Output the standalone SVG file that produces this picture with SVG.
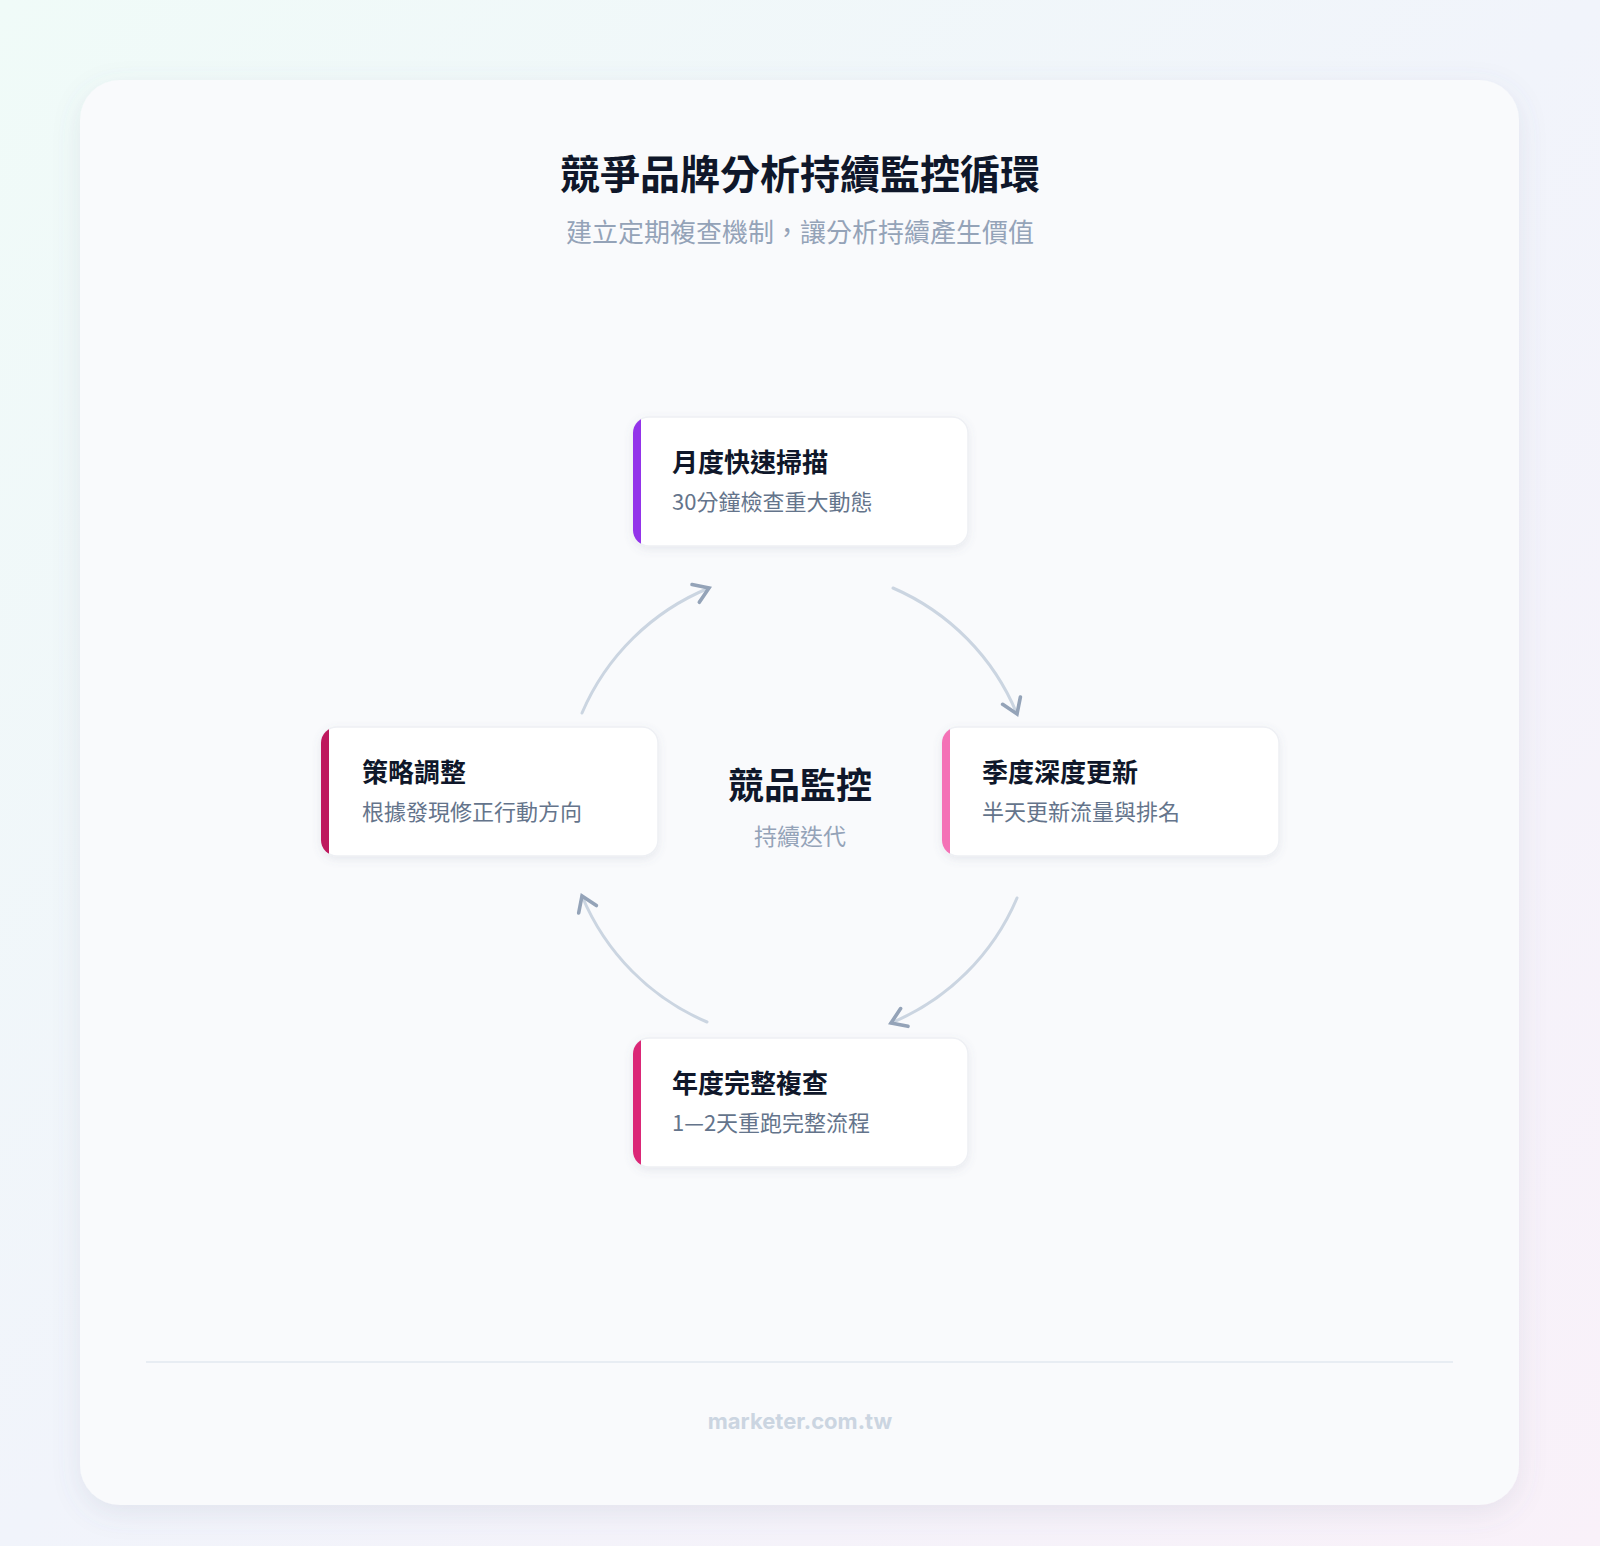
<svg xmlns="http://www.w3.org/2000/svg" width="1600" height="1546" viewBox="0 0 1600 1546">
<defs>
<linearGradient id="bg" x1="0" y1="0" x2="1" y2="1"><stop offset="0" stop-color="#f0fbf8"/><stop offset="0.5" stop-color="#f1f4fb"/><stop offset="1" stop-color="#f9f1f9"/></linearGradient>
<filter id="sh" x="-10%" y="-10%" width="120%" height="130%"><feDropShadow dx="0" dy="8" stdDeviation="14" flood-color="#64748b" flood-opacity="0.12"/></filter>
<filter id="sh2" x="-10%" y="-10%" width="120%" height="130%"><feDropShadow dx="0" dy="3" stdDeviation="4" flood-color="#64748b" flood-opacity="0.12"/></filter>
<marker id="ah" viewBox="0 0 20 20" refX="15" refY="10" markerWidth="24" markerHeight="24" markerUnits="userSpaceOnUse" orient="auto"><path d="M3,2 L15,10 L3,18" fill="none" stroke="#94a3b8" stroke-width="3" stroke-linecap="round"/></marker>
<clipPath id="c1"><rect x="633" y="417" width="335" height="129" rx="16"/></clipPath>
<clipPath id="c2"><rect x="942" y="727" width="337" height="129" rx="16"/></clipPath>
<clipPath id="c3"><rect x="633" y="1038" width="335" height="129" rx="16"/></clipPath>
<clipPath id="c4"><rect x="321" y="727" width="337" height="129" rx="16"/></clipPath>
</defs>
<style>
.ct{font-family:"Noto Sans CJK TC","Noto Sans",sans-serif;font-weight:700;font-size:26px;fill:#0f172a}
.cs{font-family:"Noto Sans CJK TC","Noto Sans",sans-serif;font-size:22px;fill:#64748b}
.card{fill:#ffffff;stroke:#eef0f4;stroke-width:1.5}
.arc{fill:none;stroke:#cbd5e1;stroke-width:3;stroke-linecap:round;marker-end:url(#ah)}
</style>
<rect width="1600" height="1546" fill="url(#bg)"/>
<rect x="80" y="80" width="1439" height="1425" rx="40" fill="#f9fafc" filter="url(#sh)"/>
<text x="800" y="189" text-anchor="middle" font-family="Noto Sans CJK TC, sans-serif" font-weight="700" font-size="40" fill="#0f172a">競爭品牌分析持續監控循環</text>
<text x="800" y="242" text-anchor="middle" font-family="Noto Sans CJK TC, sans-serif" font-size="26" fill="#94a3b8">建立定期複查機制，讓分析持續產生價值</text>
<g id="connectors">
<path class="arc" d="M582,713 A235,235 0 0 1 709,588"/>
<path class="arc" d="M893,588 A235,235 0 0 1 1017,714"/>
<path class="arc" d="M1017,898 A235,235 0 0 1 891,1023"/>
<path class="arc" d="M707,1022 A235,235 0 0 1 582,896"/>
</g>
<g id="node-monthly">
<rect class="card" x="633" y="417" width="335" height="129" rx="16" filter="url(#sh2)"/>
<rect x="633" y="417" width="8" height="129" fill="#9333ea" clip-path="url(#c1)"/>
<text class="ct" x="672" y="472">月度快速掃描</text>
<text class="cs" x="672" y="510">30分鐘檢查重大動態</text>
</g>
<g id="node-quarterly">
<rect class="card" x="942" y="727" width="337" height="129" rx="16" filter="url(#sh2)"/>
<rect x="942" y="727" width="8" height="129" fill="#f472b6" clip-path="url(#c2)"/>
<text class="ct" x="982" y="782">季度深度更新</text>
<text class="cs" x="982" y="820">半天更新流量與排名</text>
</g>
<g id="node-yearly">
<rect class="card" x="633" y="1038" width="335" height="129" rx="16" filter="url(#sh2)"/>
<rect x="633" y="1038" width="8" height="129" fill="#db2777" clip-path="url(#c3)"/>
<text class="ct" x="672" y="1093">年度完整複查</text>
<text class="cs" x="672" y="1131">1—2天重跑完整流程</text>
</g>
<g id="node-strategy">
<rect class="card" x="321" y="727" width="337" height="129" rx="16" filter="url(#sh2)"/>
<rect x="321" y="727" width="8" height="129" fill="#be185d" clip-path="url(#c4)"/>
<text class="ct" x="362" y="782">策略調整</text>
<text class="cs" x="362" y="820">根據發現修正行動方向</text>
</g>
<g id="center">
<text x="800" y="799" text-anchor="middle" font-family="Noto Sans CJK TC, sans-serif" font-weight="700" font-size="36" fill="#0f172a">競品監控</text>
<text x="800" y="845" text-anchor="middle" font-family="Noto Sans CJK TC, sans-serif" font-size="23" fill="#94a3b8">持續迭代</text>
</g>
<line x1="146" y1="1362" x2="1453" y2="1362" stroke="#e2e8f0" stroke-width="1.5"/>
<text x="800" y="1429" text-anchor="middle" font-family="Inter, Liberation Sans, sans-serif" font-weight="700" font-size="22" fill="#cbd5e1">marketer.com.tw</text>
</svg>
